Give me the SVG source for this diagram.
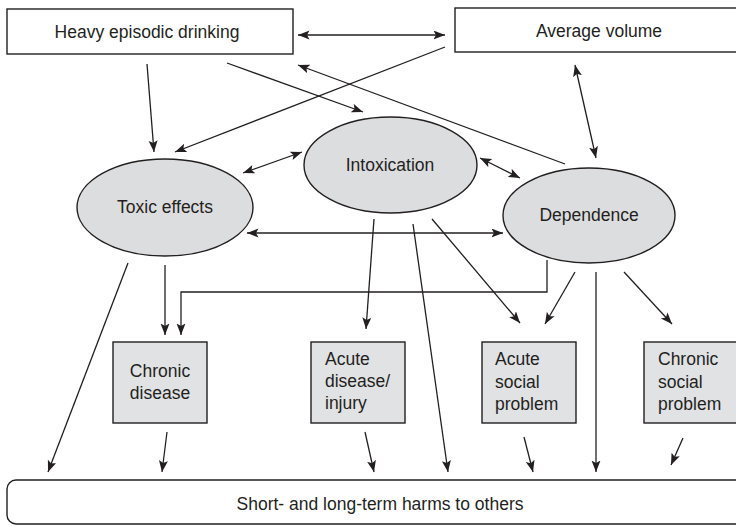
<svg xmlns="http://www.w3.org/2000/svg" width="736" height="527" viewBox="0 0 736 527">
<defs>
<style>
.box{fill:#ffffff;stroke:#231f20;stroke-width:1.4}
.gbox{fill:#e1e2e4;stroke:#231f20;stroke-width:1.4}
.ell{fill:#dcdddf;stroke:#231f20;stroke-width:1.4}
.t{font-family:"Liberation Sans",Arial,sans-serif;font-size:17.5px;fill:#231f20}
.c{text-anchor:middle}
.ln{fill:none;stroke:#231f20;stroke-width:1.3}
.a{marker-end:url(#ah)}
.d{marker-start:url(#ah);marker-end:url(#ah)}
</style>
<marker id="ah" markerUnits="userSpaceOnUse" markerWidth="12" markerHeight="10" refX="11.5" refY="4.5" orient="auto-start-reverse">
<path d="M0,0 L11.5,4.5 L0,9 L2.5,4.5 z" fill="#231f20"/>
</marker>
</defs>
<rect width="736" height="527" fill="#ffffff"/>

<g id="heavy-episodic-drinking">
<rect class="box" x="7" y="9" width="286" height="45"/>
<text class="t c" x="147" y="38">Heavy episodic drinking</text>
</g>
<g id="average-volume">
<rect class="box" x="455" y="8" width="290" height="44"/>
<text class="t c" x="599" y="37">Average volume</text>
</g>
<g id="toxic-effects">
<ellipse class="ell" cx="165" cy="207.5" rx="88" ry="48.5"/>
<text class="t c" x="165" y="213">Toxic effects</text>
</g>
<g id="intoxication">
<ellipse class="ell" cx="390.5" cy="165" rx="86.5" ry="48"/>
<text class="t c" x="390" y="171">Intoxication</text>
</g>
<g id="dependence">
<ellipse class="ell" cx="589" cy="215.5" rx="86" ry="47.5"/>
<text class="t c" x="589" y="221">Dependence</text>
</g>
<g id="chronic-disease">
<rect class="gbox" x="113" y="342" width="94" height="81"/>
<text class="t c" x="160" y="377">Chronic</text>
<text class="t c" x="160" y="398.5">disease</text>
</g>
<g id="acute-disease-injury">
<rect class="gbox" x="311" y="342" width="94" height="81"/>
<text class="t" x="325" y="365">Acute</text>
<text class="t" x="325" y="387">disease/</text>
<text class="t" x="325" y="409">injury</text>
</g>
<g id="acute-social-problem">
<rect class="gbox" x="482" y="342" width="94" height="81"/>
<text class="t" x="495" y="365">Acute</text>
<text class="t" x="495" y="387.5">social</text>
<text class="t" x="495" y="410">problem</text>
</g>
<g id="chronic-social-problem">
<rect class="gbox" x="644" y="342" width="96" height="81"/>
<text class="t" x="658" y="365">Chronic</text>
<text class="t" x="658" y="387.5">social</text>
<text class="t" x="658" y="410">problem</text>
</g>
<g id="harms-to-others">
<rect class="box" x="7" y="480" width="745" height="44" rx="9"/>
<text class="t c" x="380" y="510">Short- and long-term harms to others</text>
</g>

<g id="connectors">
<line class="ln d" x1="298" y1="35" x2="445" y2="35"/>
<line class="ln a" x1="147" y1="64" x2="154" y2="152"/>
<line class="ln a" x1="227" y1="63" x2="363" y2="112"/>
<line class="ln a" x1="445" y1="47" x2="175" y2="152"/>
<line class="ln a" x1="565" y1="164" x2="298" y2="65"/>
<line class="ln d" x1="575" y1="65" x2="596" y2="158"/>
<line class="ln d" x1="243" y1="173" x2="302" y2="152"/>
<line class="ln d" x1="480" y1="158" x2="520" y2="178"/>
<line class="ln d" x1="247" y1="233" x2="503" y2="233"/>
<line class="ln a" x1="128" y1="263" x2="48" y2="472"/>
<line class="ln a" x1="165" y1="265" x2="165" y2="335"/>
<polyline class="ln a" points="547,260 547,292 181,292 181,335"/>
<line class="ln a" x1="374" y1="219" x2="366" y2="329"/>
<line class="ln a" x1="413" y1="224" x2="448" y2="472"/>
<line class="ln a" x1="432" y1="219" x2="520" y2="323"/>
<line class="ln a" x1="575" y1="272" x2="545" y2="324"/>
<line class="ln a" x1="596" y1="272" x2="596" y2="472"/>
<line class="ln a" x1="624" y1="272" x2="672" y2="324"/>
<line class="ln a" x1="167" y1="432" x2="162" y2="472"/>
<line class="ln a" x1="365" y1="432" x2="374" y2="472"/>
<line class="ln a" x1="524" y1="437" x2="533" y2="472"/>
<line class="ln a" x1="683" y1="438" x2="671" y2="465"/>
</g>
</svg>
